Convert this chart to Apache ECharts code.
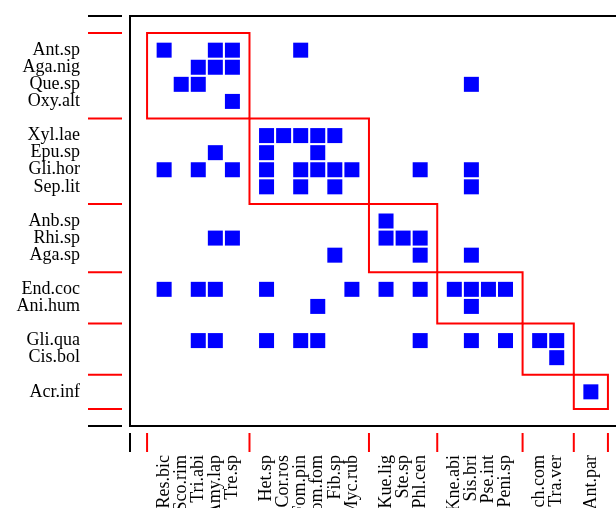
<!DOCTYPE html>
<html>
<head>
<meta charset="utf-8">
<script src="https://cdn.jsdelivr.net/npm/echarts@6/dist/echarts.min.js"></script>
<style>
  html, body { margin: 0; padding: 0; background: #fff; }
  #chart { width: 616px; height: 508px; }
</style>
</head>
<body>
<div id="chart"></div>
<script>
// Column species (lower level), in module order
const colLabels = ['Res.bic', 'Sco.rim', 'Tri.abi', 'Amy.lap', 'Tre.sp',
  'Het.sp', 'Cor.ros', 'Fom.pin', 'Fom.fom', 'Fib.sp', 'Myc.rub',
  'Kue.lig', 'Ste.sp', 'Phl.cen',
  'Kne.abi', 'Sis.bri', 'Pse.int', 'Peni.sp',
  'Sch.com', 'Tra.ver',
  'Ant.par'];
// Row species (higher level), in module order
const rowLabels = ['Ant.sp', 'Aga.nig', 'Que.sp', 'Oxy.alt',
  'Xyl.lae', 'Epu.sp', 'Gli.hor', 'Sep.lit',
  'Anb.sp', 'Rhi.sp', 'Aga.sp',
  'End.coc', 'Ani.hum',
  'Gli.qua', 'Cis.bol',
  'Acr.inf'];
// Number of species in each module
const colModuleSizes = [5, 6, 3, 4, 2, 1];
const rowModuleSizes = [4, 4, 3, 2, 2, 1];
// Observed interactions: row species -> column species
const links = [
  ['Ant.sp', ['Res.bic', 'Amy.lap', 'Tre.sp', 'Fom.pin']],
  ['Aga.nig', ['Tri.abi', 'Amy.lap', 'Tre.sp']],
  ['Que.sp', ['Sco.rim', 'Tri.abi', 'Sis.bri']],
  ['Oxy.alt', ['Tre.sp']],
  ['Xyl.lae', ['Het.sp', 'Cor.ros', 'Fom.pin', 'Fom.fom', 'Fib.sp']],
  ['Epu.sp', ['Amy.lap', 'Het.sp', 'Fom.fom']],
  ['Gli.hor', ['Res.bic', 'Tri.abi', 'Tre.sp', 'Het.sp', 'Fom.pin', 'Fom.fom', 'Fib.sp', 'Myc.rub', 'Phl.cen', 'Sis.bri']],
  ['Sep.lit', ['Het.sp', 'Fom.pin', 'Fib.sp', 'Sis.bri']],
  ['Anb.sp', ['Kue.lig']],
  ['Rhi.sp', ['Amy.lap', 'Tre.sp', 'Kue.lig', 'Ste.sp', 'Phl.cen']],
  ['Aga.sp', ['Fib.sp', 'Phl.cen', 'Sis.bri']],
  ['End.coc', ['Res.bic', 'Tri.abi', 'Amy.lap', 'Het.sp', 'Myc.rub', 'Kue.lig', 'Phl.cen', 'Kne.abi', 'Sis.bri', 'Pse.int', 'Peni.sp']],
  ['Ani.hum', ['Fom.fom', 'Sis.bri']],
  ['Gli.qua', ['Tri.abi', 'Amy.lap', 'Het.sp', 'Fom.pin', 'Fom.fom', 'Phl.cen', 'Sis.bri', 'Peni.sp', 'Sch.com', 'Tra.ver']],
  ['Cis.bol', ['Tra.ver']],
  ['Acr.inf', ['Ant.par']]
];

// Each module takes its species slots plus one separating slot
function layout(sizes) {
  const items = [], bounds = [0];
  let p = 0;
  sizes.forEach(n => {
    for (let i = 0; i < n; i++) items.push(++p);
    bounds.push(++p);
  });
  return { items, bounds };
}
const cols = layout(colModuleSizes);
const rows = layout(rowModuleSizes);
const xMax = cols.bounds[cols.bounds.length - 1] + 1;
const yMax = rows.bounds[rows.bounds.length - 1] + 1;

const colPos = {}, rowPos = {};
colLabels.forEach((c, i) => { colPos[c] = cols.items[i]; });
rowLabels.forEach((r, i) => { rowPos[r] = rows.items[i]; });
const colNameAt = {}, rowNameAt = {};
colLabels.forEach((c, i) => { colNameAt[cols.items[i]] = c; });
rowLabels.forEach((r, i) => { rowNameAt[rows.items[i]] = r; });

const cells = [];
links.forEach(([r, cs]) => cs.forEach(c => cells.push([colPos[c], rowPos[r]])));

const moduleBoxes = colModuleSizes.map((_, k) =>
  [cols.bounds[k], rows.bounds[k], cols.bounds[k + 1], rows.bounds[k + 1]]);

// Tick marks: module boundaries (red) and plot edges (black)
const leftTicks = [[-1, 1]].concat(rows.bounds.map(b => [b, 0]), [[yMax, 1]]);
const bottomTicks = [[-1, 1]].concat(cols.bounds.map(b => [b, 0]), [[xMax, 1]]);

const RED = '#ff0000';
const chart = echarts.init(document.getElementById('chart'), null, { renderer: 'canvas' });
chart.setOption({
  animation: false,
  backgroundColor: '#fff',
  grid: {
    left: 130, top: 16, width: 495, height: 410,
    outerBoundsMode: 'none', containLabel: false,
    show: true, borderColor: '#000', borderWidth: 2, backgroundColor: 'transparent'
  },
  xAxis: {
    type: 'value', min: -1, max: xMax, interval: 1,
    axisLine: { show: false }, axisTick: { show: false }, splitLine: { show: false },
    axisLabel: {
      rotate: 90, margin: 29, fontFamily: 'Liberation Serif', fontSize: 18, color: '#000',
      formatter: v => colNameAt[v] || ''
    }
  },
  yAxis: {
    type: 'value', min: -1, max: yMax, interval: 1, inverse: true,
    axisLine: { show: false }, axisTick: { show: false }, splitLine: { show: false },
    axisLabel: {
      margin: 50, fontFamily: 'Liberation Serif', fontSize: 18, color: '#000',
      formatter: v => rowNameAt[v] || ''
    }
  },
  series: [
    {
      type: 'scatter', data: cells, symbol: 'rect', symbolSize: 15,
      itemStyle: { color: '#0000ff', opacity: 1 },
      z: 2
    },
    {
      type: 'custom', data: moduleBoxes, clip: false, z: 3,
      renderItem: (params, api) => {
        const a = api.coord([api.value(0), api.value(1)]);
        const b = api.coord([api.value(2), api.value(3)]);
        return {
          type: 'rect',
          shape: { x: a[0], y: a[1], width: b[0] - a[0], height: b[1] - a[1] },
          style: { fill: 'none', stroke: RED, lineWidth: 2 }
        };
      }
    },
    {
      type: 'custom', data: leftTicks, clip: false, z: 3,
      renderItem: (params, api) => {
        const p = api.coord([-1, api.value(0)]);
        return {
          type: 'line',
          shape: { x1: p[0] - 42, y1: p[1], x2: p[0] - 8, y2: p[1] },
          style: { stroke: api.value(1) ? '#000' : RED, lineWidth: 2 }
        };
      }
    },
    {
      type: 'custom', data: bottomTicks, clip: false, z: 3,
      renderItem: (params, api) => {
        const p = api.coord([api.value(0), yMax]);
        return {
          type: 'line',
          shape: { x1: p[0], y1: p[1] + 7, x2: p[0], y2: p[1] + 26 },
          style: { stroke: api.value(1) ? '#000' : RED, lineWidth: 2 }
        };
      }
    }
  ]
});
</script>
</body>
</html>
